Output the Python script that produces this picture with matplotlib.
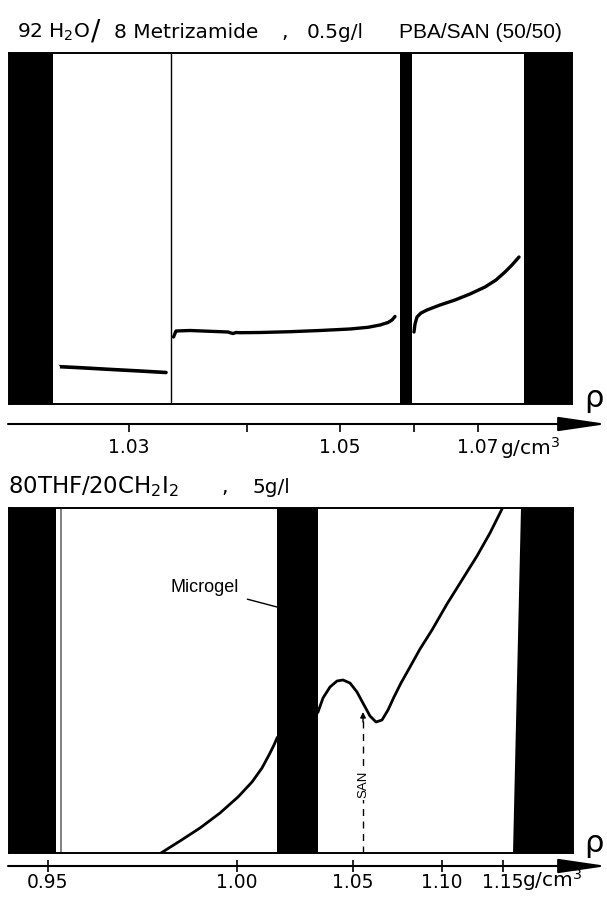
import matplotlib
matplotlib.use("Agg")
import matplotlib.pyplot as plt

W, H = 607, 897

# ---------------- data (positions along the tube, signal in arbitrary units) ----------------
# upper panel: 92 H2O / 8 Metrizamide, 0.5 g/l
top_frame = (9, 572)
top_signal_max = 351
top_bands = [(9, 53), (400, 412), (524, 572)]
top_thin_line = 171
top_seg1_x = [56, 80, 110, 140, 166]
top_seg1_y = [37.5, 36.3, 34.6, 33.0, 31.5]
top_seg2_x = [173.5, 176, 190, 210, 228, 231, 233, 236, 240, 260, 290, 320, 350, 368, 380, 388, 392, 395]
top_seg2_y = [67, 73, 73.5, 72.7, 72, 71, 70.5, 71.5, 71.3, 71.5, 72.3, 73.5, 75, 76.7, 79, 81.5, 84, 87.5]
top_seg3_x = [414, 415, 417, 421, 427, 440, 455, 470, 485, 496, 505, 512, 519]
top_seg3_y = [72, 80, 87, 91, 94, 99, 104, 110, 117, 124, 132, 139, 147]
top_tick_pos = [129, 247, 340, 414, 478]
top_tick_labels = ["1.03", "", "1.05", "", "1.07"]

# lower panel: 80 THF / 20 CH2I2, 5 g/l
low_frame = (9, 573)
low_signal_max = 345
# band polygons: (left_bottom, left_top, right_bottom, right_top)
low_bands = [(9, 9, 56, 56), (277, 277, 318, 318), (513, 521, 573, 573)]
low_thin_line = 61
low_left_x = [161, 180, 200, 220, 238, 252, 262, 269, 274, 277]
low_left_y = [0, 12, 25, 40, 56, 71, 85, 98, 108, 115]
low_right_x = [318, 323, 330, 337, 343, 350, 357, 364, 370, 376, 382, 388, 394, 401, 410, 420, 432, 447, 462, 477, 490, 502]
low_right_y = [141, 155, 166, 172, 173, 170, 161, 148, 137, 131, 133, 143, 156, 170, 186, 204, 223, 249, 273, 297, 320, 344]
san_pos = 363
san_tip = 141
low_tick_pos = [48, 237, 353, 442, 503]
low_tick_labels = ["0.95", "1.00", "1.05", "1.10", "1.15"]

# ---------------- figure ----------------
fig = plt.figure(figsize=(W / 100, H / 100), dpi=100)
FONT = "DejaVu Sans"


def fx(px):
    return px / W


def fy(py):
    return 1 - py / H


def panel(x0, x1, ytop, ybot, ymax):
    ax = fig.add_axes([fx(x0), fy(ybot), fx(x1 - x0), (ybot - ytop) / H])
    ax.set_xlim(x0, x1)
    ax.set_ylim(0, ymax)
    ax.set_xticks([])
    ax.set_yticks([])
    for s in ax.spines.values():
        s.set_linewidth(1.4)
        s.set_color("black")
    return ax


def scale_axis(yline, ticks, labels, direction, length, pad):
    sa = fig.add_axes([0, fy(yline), 1, 0.0005])
    sa.set_xlim(0, W)
    sa.set_ylim(0, 1)
    for s in sa.spines.values():
        s.set_visible(False)
    sa.set_yticks([])
    sa.set_xticks(ticks)
    sa.set_xticklabels(labels, fontsize=13.5, family=FONT)
    sa.tick_params(axis="x", direction=direction, length=length, width=1.2, pad=pad)
    sa.annotate("", xy=(W, 0), xytext=(8, 0),
                arrowprops=dict(arrowstyle="-|>,head_length=1.5,head_width=0.22",
                                lw=1.5, color="black", mutation_scale=20,
                                shrinkA=0, shrinkB=0),
                annotation_clip=False)
    return sa


# ---- upper panel ----
ax1 = panel(top_frame[0], top_frame[1], 53, 404, top_signal_max)
for a, b in top_bands:
    ax1.axvspan(a, b, color="black", lw=0)
ax1.axvline(top_thin_line, color="black", lw=1.0)
ax1.plot(top_seg1_x, top_seg1_y, color="black", lw=2.6, solid_capstyle="round")
ax1.plot(top_seg1_x[:1], top_seg1_y[:1], "o", color="white", ms=4, mec="white")
ax1.plot(top_seg2_x, top_seg2_y, color="black", lw=2.4, solid_capstyle="round")
ax1.plot(top_seg3_x, top_seg3_y, color="black", lw=2.4, solid_capstyle="round")

scale_axis(424, top_tick_pos, top_tick_labels, "out", 6, 4)
fig.text(fx(500), fy(448), "g/cm$^3$", fontsize=14.5, family=FONT, ha="left", va="center")
fig.text(fx(594), fy(398), "ρ", fontsize=22, family=FONT, ha="center", va="center")

# titles upper
tkw = dict(fontsize=14.5, family=FONT, va="center", ha="left")
fig.text(fx(17), fy(32), "92 H$_2$O", **tkw)
fig.text(fx(91), fy(31), "/", fontsize=20, family=FONT, va="center", ha="left")
fig.text(fx(114), fy(32), "8 Metrizamide", **tkw)
fig.text(fx(281), fy(32), ",", **tkw)
fig.text(fx(307), fy(32), "0.5g/l", **tkw)
fig.text(fx(399), fy(32), "PBA/SAN (50/50)", fontsize=15, family="Liberation Sans",
         va="center", ha="left")

# ---- lower panel ----
ax2 = panel(low_frame[0], low_frame[1], 508, 853, low_signal_max)
for lb, lt, rb, rt in low_bands:
    ax2.fill([lb, rb, rt, lt], [0, 0, low_signal_max, low_signal_max], color="black", lw=0)
ax2.axvline(low_thin_line, color="#777777", lw=1.3)
ax2.plot(low_left_x, low_left_y, color="black", lw=2.0)
ax2.plot(low_right_x, low_right_y, color="black", lw=2.0)

# SAN marker
ax2.plot([san_pos, san_pos], [0, san_tip - 4], color="black", lw=1.0, ls=(0, (5, 4)))
ax2.annotate("", xy=(san_pos, san_tip), xytext=(san_pos, san_tip - 10),
             arrowprops=dict(arrowstyle="-|>", lw=1.0, color="black", mutation_scale=8,
                             shrinkA=0, shrinkB=0))
ax2.text(san_pos, 69, "SAN", rotation=90, fontsize=9.5, family="Liberation Sans",
         ha="center", va="center", bbox=dict(fc="white", ec="none", pad=1.5))

# Microgel label
ax2.annotate("Microgel", xy=(277, 246), xytext=(205, 265), fontsize=13,
             family="Liberation Sans", ha="center", va="center",
             arrowprops=dict(arrowstyle="-", lw=1.0, color="black", shrinkA=4, shrinkB=0))

scale_axis(866, low_tick_pos, low_tick_labels, "inout", 8, 1)
fig.text(fx(522), fy(880), "g/cm$^3$", fontsize=14.5, family=FONT, ha="left", va="center")
fig.text(fx(594), fy(843), "ρ", fontsize=22, family=FONT, ha="center", va="center")

# titles lower
fig.text(fx(8), fy(487), "80THF/20CH$_2$I$_2$", fontsize=16.5, family=FONT, va="center", ha="left")
fig.text(fx(221), fy(487), ",", **tkw)
fig.text(fx(252), fy(487), "5g/l", **tkw)

fig.savefig("out.png", dpi=100, facecolor="white")
